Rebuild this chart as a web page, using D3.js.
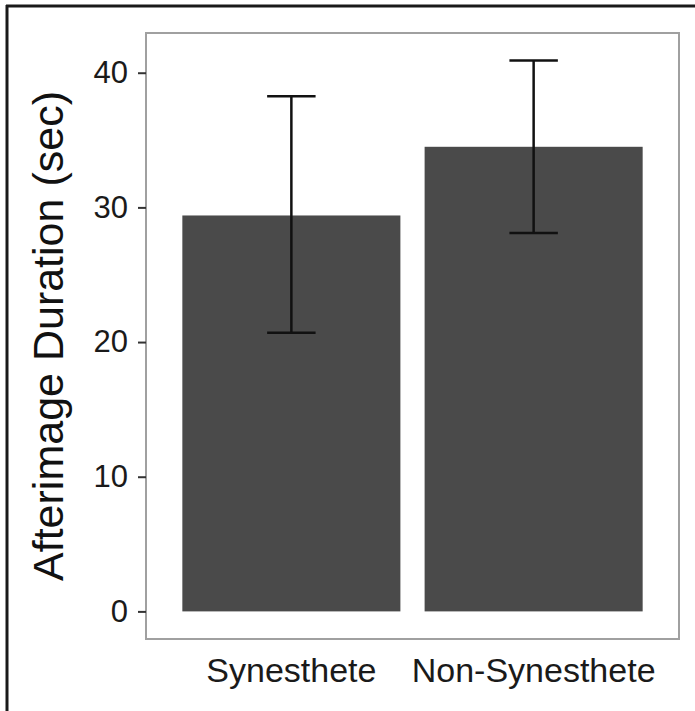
<!DOCTYPE html>
<html>
<head>
<meta charset="utf-8">
<script src="https://cdn.jsdelivr.net/npm/d3@7"></script>
<style>
  body { margin: 0; background: #fff; }
  text { font-family: "Liberation Sans", Arial, Helvetica, sans-serif; }
</style>
</head>
<body>
<div id="chart"></div>
<script>
const width = 695;
const height = 711;

const groups = ["Synesthete", "Non-Synesthete"];
const means = [29.4, 34.5];
const lower = [20.7, 28.1];
const upper = [38.25, 40.9];
const yTicks = [0, 10, 20, 30, 40];

const panel = { left: 146, right: 679, top: 33, bottom: 639 };

const svg = d3.select("#chart")
  .append("svg")
  .attr("width", width)
  .attr("height", height);

// outer frame (top and left edges)
svg.append("line")
  .attr("x1", 6).attr("y1", 6).attr("x2", width).attr("y2", 6)
  .style("stroke", "#1a1a1a").style("stroke-width", 3);
svg.append("line")
  .attr("x1", 7).attr("y1", 5).attr("x2", 7).attr("y2", height)
  .style("stroke", "#1a1a1a").style("stroke-width", 3);

const x = d3.scaleBand()
  .domain(groups)
  .range([panel.left, panel.right])
  .paddingInner(0.1)
  .paddingOuter(0.15);

const y = d3.scaleLinear()
  .domain([-2.05, 42.95])
  .range([panel.bottom, panel.top]);

const data = groups.map((g, i) => ({ g, mean: means[i], lo: lower[i], hi: upper[i] }));

// bars
svg.selectAll("rect.bar")
  .data(data)
  .enter()
  .append("rect")
  .attr("class", "bar")
  .attr("x", d => x(d.g))
  .attr("width", x.bandwidth())
  .attr("y", d => y(d.mean))
  .attr("height", d => y(0) - y(d.mean))
  .style("fill", "#4a4a4a");

// error bars
const capHalf = x.step() * 0.1;
const err = svg.selectAll("g.err")
  .data(data)
  .enter()
  .append("g")
  .attr("class", "err")
  .style("stroke", "#111")
  .style("stroke-width", 2.5);

err.append("line")
  .attr("x1", d => x(d.g) + x.bandwidth() / 2)
  .attr("x2", d => x(d.g) + x.bandwidth() / 2)
  .attr("y1", d => y(d.lo))
  .attr("y2", d => y(d.hi));
err.append("line")
  .attr("x1", d => x(d.g) + x.bandwidth() / 2 - capHalf)
  .attr("x2", d => x(d.g) + x.bandwidth() / 2 + capHalf)
  .attr("y1", d => y(d.hi))
  .attr("y2", d => y(d.hi));
err.append("line")
  .attr("x1", d => x(d.g) + x.bandwidth() / 2 - capHalf)
  .attr("x2", d => x(d.g) + x.bandwidth() / 2 + capHalf)
  .attr("y1", d => y(d.lo))
  .attr("y2", d => y(d.lo));

// panel border
svg.append("rect")
  .attr("x", panel.left)
  .attr("y", panel.top)
  .attr("width", panel.right - panel.left)
  .attr("height", panel.bottom - panel.top)
  .style("fill", "none")
  .style("stroke", "#a0a0a0")
  .style("stroke-width", 2);

// y axis
const yAxis = svg.append("g")
  .attr("transform", `translate(${panel.left},0)`)
  .call(d3.axisLeft(y).tickValues(yTicks).tickSize(8).tickPadding(10));
yAxis.select(".domain").remove();
yAxis.selectAll(".tick line").style("stroke", "#333").style("stroke-width", 2);
yAxis.selectAll(".tick text")
  .style("font-size", "31px")
  .style("fill", "#1a1a1a")
  .style("font-family", "'Liberation Sans', Arial, sans-serif");

// x axis
const xAxis = svg.append("g")
  .attr("transform", `translate(0,${panel.bottom})`)
  .call(d3.axisBottom(x).tickSize(0));
xAxis.select(".domain").remove();
xAxis.selectAll(".tick text")
  .attr("y", 43)
  .attr("dy", 0)
  .style("font-size", "34px")
  .style("fill", "#1a1a1a")
  .style("font-family", "'Liberation Sans', Arial, sans-serif");

// y title
svg.append("text")
  .attr("transform", `translate(63,${(panel.top + panel.bottom) / 2 + 0}) rotate(-90)`)
  .attr("text-anchor", "middle")
  .style("font-size", "43px")
  .style("fill", "#111")
  .text("Afterimage Duration (sec)");
</script>
</body>
</html>
